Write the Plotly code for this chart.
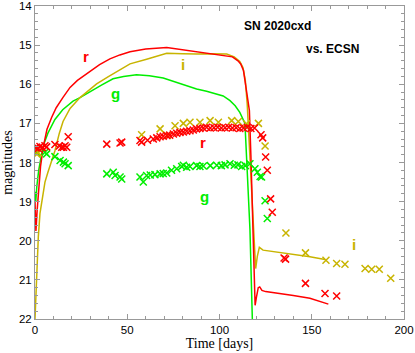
import plotly.graph_objects as go

# model light curves (ECSN)
t_r = [0, 0.5, 1.2, 2, 3, 4.5, 6.5, 9, 11.5, 15, 19, 23, 28.7, 35, 40.6, 46, 51.5, 60, 71.4, 80,
       89.4, 96, 102, 107, 110, 111.5, 113, 114, 115, 116.2, 117, 118, 118.8, 119.3, 120, 121,
       121.8, 123, 125, 130, 140, 149, 159]
m_r = [19.0, 19.75, 19.2, 18.6, 18.1, 17.6, 17.15, 16.85, 16.6, 16.35, 16.08, 15.9, 15.7, 15.5,
       15.35, 15.25, 15.17, 15.1, 15.06, 15.12, 15.19, 15.22, 15.27, 15.3, 15.4, 15.48, 15.65,
       15.95, 16.2, 16.67, 17.8, 19.3, 20.7, 21.65, 21.45, 21.2, 21.18, 21.27, 21.3, 21.33, 21.4,
       21.47, 21.62]

t_g = [0, 0.4, 1, 2, 3.5, 5, 7, 10.8, 15, 20.6, 24.4, 30, 36, 42.3, 48, 55, 62, 69.5, 78, 87.6,
       93, 98.5, 102, 105.7, 108.5, 111, 112.5, 113.8, 115, 116.5, 117.8, 118.2]
m_g = [18.75, 19.0, 18.6, 18.2, 17.8, 17.5, 17.25, 16.9, 16.65, 16.43, 16.34, 16.18, 16.02,
       15.86, 15.8, 15.76, 15.78, 15.84, 15.97, 16.12, 16.18, 16.25, 16.3, 16.42, 16.55, 16.72,
       16.85, 17.0, 18.2, 19.7, 22.0, 23.0]

t_i = [0, 0.5, 1, 1.8, 2.7, 4, 5.4, 7, 8.5, 10.8, 13.2, 15.2, 19, 24.4, 28, 33.4, 40, 45, 51.5,
       60.5, 71.4, 80, 87.6, 95, 103.9, 108, 111, 112.7, 114, 115, 116, 117, 118, 119.6, 120.5,
       121.6, 123.6, 130, 140, 149, 157.2]
m_i = [22.0, 21.3, 20.6, 19.9, 19.3, 18.85, 18.5, 18.25, 18.03, 17.7, 17.25, 16.95, 16.62,
       16.34, 16.2, 15.99, 15.8, 15.66, 15.48, 15.36, 15.21, 15.22, 15.23, 15.22, 15.23, 15.3,
       15.42, 15.57, 15.9, 16.5, 17.5, 18.5, 19.5, 20.71, 20.4, 20.17, 20.24, 20.28, 20.35,
       20.41, 20.48]

# SN 2020cxd photometry
obs_t_r = [0.3, 0.9, 1.8, 2.7, 4.0, 5.4, 6.3, 10.8, 13.2, 14.5, 15.4, 16.3, 17.2, 18.0, 38.9,
           46.1, 47.0, 56.9, 57.8, 61.0, 64.1, 66.0, 67.8, 69.5, 71.4, 73.0, 75.0, 76.8, 78.6,
           80.4, 82.2, 84.0, 85.8, 87.6, 89.4, 91.2, 93.0, 95.0, 97.0, 99.0, 101.0, 103.0, 105.0,
           107.0, 109.0, 111.0, 113.0, 115.0, 117.0, 119.0, 122.5, 123.4, 125.0, 125.9, 127.7,
           128.6, 135.0, 135.8, 146.6, 157.2, 163.5]
obs_m_r = [17.62, 17.61, 17.64, 17.59, 17.62, 17.57, 17.6, 17.54, 17.58, 17.61, 17.61, 17.57,
           17.61, 17.34, 17.53, 17.5, 17.48, 17.44, 17.48, 17.43, 17.4, 17.37, 17.34, 17.33, 17.31,
           17.3, 17.27, 17.25, 17.23, 17.22, 17.2, 17.19, 17.17, 17.14, 17.13, 17.12, 17.1, 17.12,
           17.11, 17.1, 17.12, 17.11, 17.1, 17.12, 17.11, 17.13, 17.12, 17.1, 17.13, 17.12, 17.29,
           17.37, 17.86, 18.2, 18.93, 19.27, 20.44, 20.47, 21.09, 21.35, 21.41]

obs_t_g = [0.0, 0.9, 5.4, 6.3, 10.8, 13.6, 15.4, 16.3, 18.0, 38.9, 42.4, 43.4, 46.1, 47.0, 56.9,
           58.7, 60.5, 62.5, 65.0, 67.8, 69.5, 71.4, 74.0, 76.8, 79.5, 80.4, 82.2, 84.0, 87.6,
           89.4, 91.2, 95.0, 98.5, 101.0, 103.0, 105.7, 108.0, 110.0, 112.0, 114.0, 116.5, 119.2,
           120.5, 122.0, 122.8, 124.7, 125.9]
obs_m_g = [17.7, 17.74, 17.74, 17.78, 17.85, 17.95, 17.99, 18.03, 18.08, 18.29, 18.25, 18.33,
           18.37, 18.42, 18.37, 18.5, 18.33, 18.32, 18.31, 18.29, 18.28, 18.27, 18.2, 18.16, 18.1,
           18.07, 18.12, 18.1, 18.08, 18.1, 18.09, 18.08, 18.07, 18.08, 18.06, 18.03, 18.07, 18.06,
           18.1, 18.08, 18.03, 18.16, 18.25, 18.36, 18.37, 18.98, 19.43]

obs_t_i = [0.9, 1.8, 57.8, 67.8, 71.7, 75.9, 80.4, 84.0, 89.4, 94.9, 99.4, 106.6, 110.2, 114.7,
           121.1, 124.7, 136.0, 146.6, 157.7, 163.5, 168.0, 178.9, 182.5, 186.6, 192.8]
obs_m_i = [17.78, 17.75, 17.29, 17.14, 17.31, 17.06, 17.0, 16.97, 16.97, 16.93, 16.97, 16.93,
           16.95, 17.01, 17.0, 17.58, 19.8, 20.31, 20.5, 20.58, 20.6, 20.71, 20.73, 20.73, 20.96]

RED = "#ff0000"
GREEN = "#00ee00"
YEL = "#c8b400"

fig = go.Figure()
for t, m, c in [(t_g, m_g, GREEN), (t_i, m_i, YEL), (t_r, m_r, RED)]:
    fig.add_trace(go.Scatter(x=t, y=m, mode="lines", line=dict(color=c, width=1.5),
                             showlegend=False, hoverinfo="skip"))

for t, m, c in [(obs_t_g, obs_m_g, GREEN), (obs_t_i, obs_m_i, YEL), (obs_t_r, obs_m_r, RED)]:
    fig.add_trace(go.Scatter(x=t, y=m, mode="markers",
                             marker=dict(symbol="x-thin", size=7, line=dict(color=c, width=1.5)),
                             showlegend=False))

# band labels
labels = [
    (27.6, 15.3, "r", RED), (43.4, 16.23, "g", GREEN), (80.4, 15.5, "i", YEL),
    (91.2, 17.48, "r", RED), (92.1, 18.88, "g", GREEN), (173.0, 20.1, "i", YEL),
]
for x, y, s, c in labels:
    fig.add_annotation(x=x, y=y, text="<b>" + s + "</b>", showarrow=False,
                       font=dict(family="Liberation Sans", size=15, color=c))

fig.add_annotation(x=131.5, y=14.5, text="<b>SN 2020cxd</b>", showarrow=False,
                   font=dict(family="Liberation Sans", size=12, color="black"))
fig.add_annotation(x=161.5, y=15.09, text="<b>vs. ECSN</b>", showarrow=False,
                   font=dict(family="Liberation Sans", size=12, color="black"))

axis_common = dict(showline=True, linecolor="#999999", linewidth=1, mirror="allticks",
                   ticks="inside", ticklen=5, tickcolor="#999999", showgrid=False,
                   zeroline=False, ticklabeloverflow="allow",
                   tickfont=dict(family="Liberation Sans", size=11.5, color="black"))

fig.update_layout(
    width=415, height=353,
    margin=dict(l=35, r=11, t=6, b=34, autoexpand=False),
    plot_bgcolor="white", paper_bgcolor="white",
    xaxis=dict(range=[0, 200], dtick=50,
               minor=dict(dtick=10, ticks="inside", ticklen=3, tickcolor="#999999"),
               title=dict(text="Time [days]", standoff=2,
                          font=dict(family="Liberation Serif", size=14, color="black")),
               **axis_common),
    yaxis=dict(range=[22, 14], dtick=1,
               minor=dict(dtick=0.2, ticks="inside", ticklen=3, tickcolor="#999999"),
               title=dict(text="magnitudes", standoff=4,
                          font=dict(family="Liberation Serif", size=14, color="black")),
               **axis_common),
)

fig.write_html("out.html", config={"displayModeBar": False},
               post_script="document.body.style.margin='0px';")
